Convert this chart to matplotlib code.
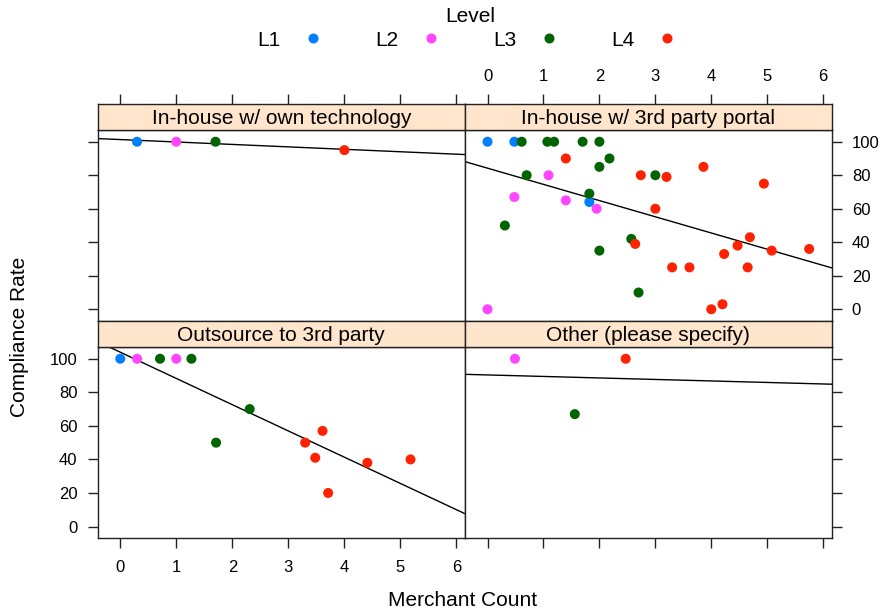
import numpy as np
import matplotlib
matplotlib.use("Agg")
import matplotlib.pyplot as plt
from matplotlib.lines import Line2D

plt.rcParams["font.family"] = ["Liberation Sans", "DejaVu Sans"]

levels = ["L1", "L2", "L3", "L4"]
level_colors = ["#0080ff", "#ff45ff", "#006400", "#ff2200"]

panel_titles = [
    "In-house w/ own technology",
    "In-house w/ 3rd party portal",
    "Outsource to 3rd party",
    "Other (please specify)",
]

# (merchant count, compliance rate, level index) per panel
own_x = [0.3, 1.0, 1.7, 4.0]
own_y = [100, 100, 100, 95]
own_lv = [0, 1, 2, 3]

portal_x = [0.0, 0.48, 0.61, 1.07, 1.19, 1.70, 2.0, 1.40, 2.18, 2.0, 3.86,
            0.70, 1.09, 2.74, 3.0, 3.2, 4.94, 1.82, 1.82, 0.48, 1.40, 1.95,
            3.0, 0.31, 2.57, 2.64, 4.69, 4.47, 4.23, 5.08, 5.75, 2.0, 3.30,
            3.61, 4.65, 2.70, 0.0, 4.0, 4.20]
portal_y = [100, 100, 100, 100, 100, 100, 100, 90, 90, 85, 85,
            80, 80, 80, 80, 79, 75, 69, 64, 67, 65, 60,
            60, 50, 42, 39, 43, 38, 33, 35, 36, 35, 25,
            25, 25, 10, 0, 0, 3]
portal_lv = [0, 0, 2, 2, 2, 2, 2, 3, 2, 2, 3,
             2, 1, 3, 2, 3, 3, 2, 0, 1, 1, 1,
             3, 2, 2, 3, 3, 3, 3, 3, 3, 2, 3,
             3, 3, 2, 1, 3, 3]

out_x = [0.0, 0.30, 0.71, 1.0, 1.27, 2.31, 1.71, 3.30, 3.61, 3.48, 4.41, 5.18, 3.71]
out_y = [100, 100, 100, 100, 100, 70, 50, 50, 57, 41, 38, 40, 20]
out_lv = [0, 1, 2, 1, 2, 2, 2, 3, 3, 3, 3, 3, 3]

other_x = [0.49, 2.47, 1.56]
other_y = [100, 100, 67]
other_lv = [1, 3, 2]

panels = [
    (own_x, own_y, own_lv),
    (portal_x, portal_y, portal_lv),
    (out_x, out_y, out_lv),
    (other_x, other_y, other_lv),
]

x_ticks = [0, 1, 2, 3, 4, 5, 6]
y_ticks = [0, 20, 40, 60, 80, 100]

all_x = own_x + portal_x + out_x + other_x
xr = max(all_x) - min(all_x)
xlim = (min(all_x) - 0.07 * xr, max(all_x) + 0.07 * xr)
ylim = (-7, 107)

W, H = 885, 616
fig = plt.figure(figsize=(W / 100, H / 100), dpi=100)

col_left = [97.7, 465]
col_w = [465 - 97.7, 831.7 - 465]
row_strip_top = [104, 321]
strip_h = 26
row_plot_bottom = [321, 538.3]

tick_kw = dict(direction="out", length=7.5, width=1.0, labelsize=12, color="#222222")

for i, (px, py, plv) in enumerate(panels):
    r, c = divmod(i, 2)
    x0 = col_left[c] / W
    w = col_w[c] / W
    plot_top = row_strip_top[r] + strip_h
    ax = fig.add_axes([x0, 1 - row_plot_bottom[r] / H, w, (row_plot_bottom[r] - plot_top) / H])
    sax = fig.add_axes([x0, 1 - plot_top / H, w, strip_h / H])

    px = np.array(px)
    py = np.array(py)
    plv = np.array(plv)
    for k in range(4):
        m = plv == k
        ax.scatter(px[m], py[m], s=52, color=level_colors[k], edgecolors="none", zorder=3)
    slope, icpt = np.polyfit(px, py, 1)
    ax.axline((0, icpt), slope=slope, color="black", lw=1.0, zorder=2)

    ax.set_xlim(xlim)
    ax.set_ylim(ylim)
    ax.set_xticks(x_ticks)
    ax.set_yticks(y_ticks)
    for sp in ax.spines.values():
        sp.set_linewidth(1.0)
        sp.set_color("#222222")

    # lattice-style alternating axes
    ax.tick_params(axis="x", top=False, bottom=(r == 1), labelbottom=(r == 1 and c == 0),
                   pad=8, **tick_kw)
    ax.tick_params(axis="y", left=(c == 0), right=(c == 1),
                   labelleft=(c == 0 and r == 1), labelright=(c == 1 and r == 0),
                   pad=7, **tick_kw)

    sax.set_facecolor("#ffe5cc")
    sax.set_xlim(xlim)
    sax.set_yticks([])
    sax.set_xticks(x_ticks if r == 0 else [])
    sax.tick_params(axis="x", top=(r == 0), bottom=False, labelbottom=False,
                    labeltop=(r == 0 and c == 1), pad=7, **tick_kw)
    for sp in sax.spines.values():
        sp.set_linewidth(1.0)
        sp.set_color("#222222")
    sax.text(0.5, 0.45, panel_titles[i], transform=sax.transAxes, ha="center",
             va="center", fontsize=15)

fig.text(463 / W, 1 - 600 / H, "Merchant Count", ha="center", va="center", fontsize=15)
fig.text(20 / W, 1 - 337 / H, "Compliance Rate", ha="center", va="center",
         rotation=90, fontsize=15)

handles = [Line2D([], [], ls="none", marker="o", markersize=7.2, color=col,
                  markeredgecolor="none") for col in level_colors]
fig.legend(handles, levels, loc="upper center", bbox_to_anchor=(470 / W, 1.0 + 5 / H),
           ncol=4, frameon=False, title="Level", title_fontsize=15, fontsize=15,
           markerfirst=False, handlelength=1.5, handletextpad=0.8,
           columnspacing=2.25, borderpad=0.1, labelspacing=0.2)

fig.savefig("out.png", dpi=100)
